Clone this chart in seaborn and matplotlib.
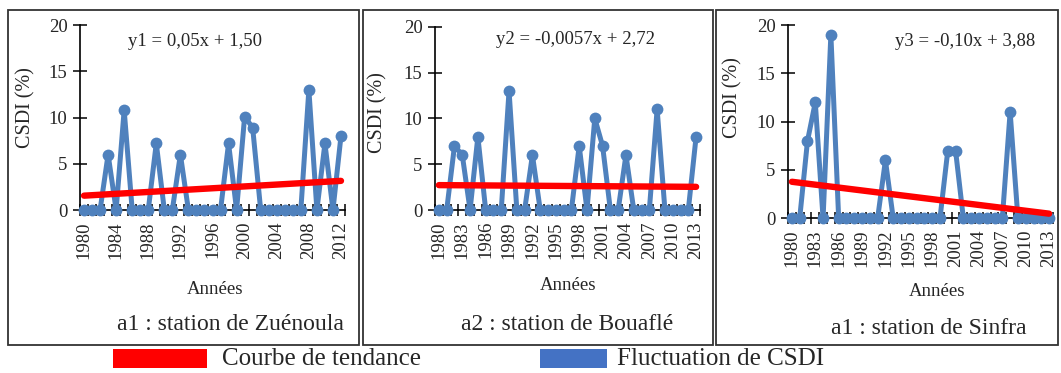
import matplotlib
matplotlib.use("Agg")
import matplotlib.pyplot as plt
import seaborn as sns
import numpy as np
import pandas as pd
from matplotlib.patches import Rectangle

# ==========================================
# Data
# ==========================================
years_zuenoula = list(range(1980, 2013))
csdi_zuenoula = [0, 0, 0, 6, 0, 10.8, 0, 0, 0, 7.2, 0, 0, 6, 0, 0, 0, 0,
                 0, 7.2, 0, 10.1, 8.9, 0, 0, 0, 0, 0, 0, 13, 0, 7.2, 0, 8]

years_bouafle = list(range(1980, 2014))
csdi_bouafle = [0, 0, 7, 6, 0, 8, 0, 0, 0, 13, 0, 0, 6, 0, 0, 0, 0,
                0, 7, 0, 10, 7, 0, 0, 6, 0, 0, 0, 11, 0, 0, 0, 0, 8]

years_sinfra = list(range(1980, 2014))
csdi_sinfra = [0, 0, 8, 12, 0, 19, 0, 0, 0, 0, 0, 0, 6, 0, 0, 0, 0,
               0, 0, 0, 7, 7, 0, 0, 0, 0, 0, 0, 11, 0, 0, 0, 0, 0]

# trend equations y = slope * x + intercept (x = rank of the year)
trend_slopes = [0.05, -0.0057, -0.10]
trend_intercepts = [1.50, 2.72, 3.88]
trend_labels = ["y1 = 0,05x + 1,50", "y2 = -0,0057x + 2,72", "y3 = -0,10x + 3,88"]
station_titles = ["a1 : station de Zuénoula", "a2 : station de Bouaflé", "a1 : station de Sinfra"]
label_steps = [4, 3, 3]

series = [(years_zuenoula, csdi_zuenoula),
          (years_bouafle, csdi_bouafle),
          (years_sinfra, csdi_sinfra)]

# ==========================================
# Style
# ==========================================
sns.set_style("ticks")
plt.rcParams['font.family'] = ['Liberation Serif', 'DejaVu Serif']
plt.rcParams['axes.linewidth'] = 1.2

BLUE = "#4f81bd"
BLUE_LEG = "#4472c4"
RED = "#ff0000"

W, H = 1061, 373
fig = plt.figure(figsize=(W / 100, H / 100), dpi=100)


def fx(px):
    return px / W


def fy(py):
    return 1 - py / H


# axes boxes in pixels: (left, right, top(20), bottom(0))
boxes = [(80, 345, 25, 210), (435, 700, 26.7, 210), (788, 1053, 25, 218.3)]
eq_pos = [(195, 42), (576, 39), (965, 42)]
xlab_pos = [(215, 290), (568, 285), (937, 292)]
title_pos = [(230, 325), (567, 325), (929, 328)]
ylab_pos = [(26, 108), (378, 113), (733, 98)]
frames = [(8, 359), (362.5, 713), (716, 1058)]

for i, (yrs, vals) in enumerate(series):
    l, r, t, b = boxes[i]
    ax = fig.add_axes([fx(l), fy(b), fx(r - l), fy(t) - fy(b)])
    df = pd.DataFrame({"Année": yrs, "CSDI": vals})

    sns.lineplot(data=df, x="Année", y="CSDI", ax=ax, color=BLUE, lw=3.6,
                 marker="o", markersize=8.5, markeredgewidth=0, zorder=3, clip_on=False)

    # trend line (Excel style, x = 1..n)
    rank = np.arange(1, len(yrs) + 1)
    trend = trend_slopes[i] * rank + trend_intercepts[i]
    ax.plot(yrs, trend, color=RED, lw=4.6, solid_capstyle="round", zorder=4)

    ax.set_xlim(yrs[0] - 0.5, yrs[-1] + 0.5)
    ax.set_ylim(0, 20)
    ax.set_yticks([0, 5, 10, 15, 20])
    ax.set_xticks(yrs[::label_steps[i]])
    ax.set_xticklabels([str(y) for y in yrs[::label_steps[i]]], rotation=90)
    ax.set_xticks(np.arange(yrs[0] - 0.5, yrs[-1] + 1), minor=True)
    ax.tick_params(axis="x", which="major", length=0, pad=8, labelsize=13.5)
    ax.tick_params(axis="x", which="minor", direction="inout", length=8, width=1.1, color="black")
    ax.tick_params(axis="y", direction="inout", length=10, width=1.1, pad=4, labelsize=13.5, color="black")
    ax.set_xlabel("")
    ax.set_ylabel("")
    sns.despine(ax=ax)
    ax.spines["left"].set_color("black")
    ax.spines["bottom"].set_color("black")
    ax.patch.set_alpha(0)

    fig.text(fx(eq_pos[i][0]), fy(eq_pos[i][1]), trend_labels[i], ha="center", va="center", fontsize=13.5)
    fig.text(fx(xlab_pos[i][0]), fy(xlab_pos[i][1]), "Années", ha="center", va="center", fontsize=13.5)
    fig.text(fx(title_pos[i][0]), fy(title_pos[i][1]), station_titles[i], ha="center", va="center", fontsize=17)
    fig.text(fx(ylab_pos[i][0]), fy(ylab_pos[i][1]), "CSDI (%)", ha="center", va="center",
             rotation=90, fontsize=14.5)

    # chart frame
    fl, fr = frames[i]
    fig.add_artist(Rectangle((fx(fl), fy(345)), fx(fr - fl), fy(10) - fy(345), transform=fig.transFigure,
                             fill=False, edgecolor="#333333", lw=1.3))

# legend drawn below the panels
fig.add_artist(Rectangle((fx(113), fy(368)), fx(94), fy(349) - fy(368), transform=fig.transFigure,
                         facecolor=RED, edgecolor="none"))
fig.text(fx(222), fy(359), "Courbe de tendance", ha="left", va="center", fontsize=18)
fig.add_artist(Rectangle((fx(540), fy(368)), fx(67), fy(349) - fy(368), transform=fig.transFigure,
                         facecolor=BLUE_LEG, edgecolor="none"))
fig.text(fx(617), fy(359), "Fluctuation de CSDI", ha="left", va="center", fontsize=18)

fig.savefig("out.png", dpi=100)
